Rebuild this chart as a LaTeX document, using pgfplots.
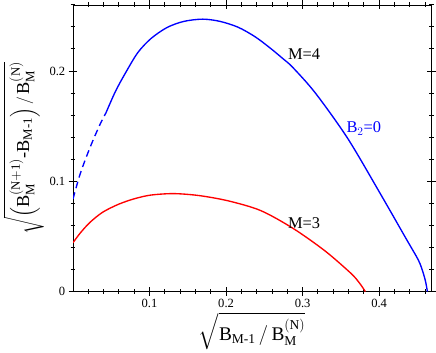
\documentclass[border=0pt]{standalone}
\usepackage{amsmath}
\usepackage{fontspec}
\setmainfont{Liberation Serif}
\usepackage{pgfplots}
\pgfplotsset{compat=1.18}
\begin{document}
\begin{tikzpicture}
\begin{axis}[
  scale only axis,
  width=371pt, height=297pt,
  xmin=0, xmax=0.468,
  ymin=0, ymax=0.26,
  xtick={0.1,0.2,0.3,0.4},
  ytick={0,0.1,0.2},
  minor xtick={0.02,0.04,...,0.46},
  minor ytick={0.02,0.04,...,0.26},
  xticklabels={0.1,0.2,0.3,0.4},
  yticklabels={0,0.1,0.2},
  tick label style={font=\fontsize{13}{15}\selectfont},
  tick align=center,
  tickwidth=9pt,
  subtickwidth=5pt,
  tick style={black, line width=1pt},
  xlabel={$\sqrt{\mathrm{B}_{\mathrm{M\text{-}1}}\,/\,\mathrm{B}_{\mathrm{M}}^{(\mathrm{N})}}$},
  ylabel={$\sqrt{\left(\mathrm{B}_{\mathrm{M}}^{(\mathrm{N+1})}\text{-}\mathrm{B}_{\mathrm{M\text{-}1}}\right)/\,\mathrm{B}_{\mathrm{M}}^{(\mathrm{N})}}$},
  xlabel style={font=\fontsize{20}{22}\selectfont, yshift=2pt},
  ylabel style={font=\fontsize{19}{21}\selectfont, yshift=-1pt},
]
\addplot[blue, line width=1.4pt, dash pattern=on 7pt off 4.5pt, smooth] coordinates {
  (0.000,0.0840) (0.0095,0.1070) (0.0221,0.1304) (0.0347,0.1507) (0.043,0.1620)
};
\addplot[blue, line width=1.4pt, smooth] coordinates {
  (0.043,0.1620) (0.0558,0.1820) (0.0700,0.2000) (0.085,0.2170) (0.102,0.2295)
  (0.123,0.2395) (0.145,0.2450) (0.1694,0.2470) (0.192,0.2450) (0.2157,0.2397)
  (0.2380,0.2310) (0.2578,0.2207) (0.2746,0.2110) (0.2872,0.2032) (0.3167,0.1800)
  (0.3588,0.1390) (0.4009,0.0895) (0.4346,0.0487) (0.4514,0.0283) (0.4577,0.0166)
  (0.4610,0.0080) (0.4630,0.0000)
};
\addplot[red, line width=1.4pt, smooth] coordinates {
  (0.000,0.0443) (0.0095,0.0531) (0.0221,0.0627) (0.0389,0.0720) (0.060,0.0793)
  (0.081,0.0843) (0.102,0.0875) (0.1316,0.0888) (0.165,0.0870) (0.203,0.0822)
  (0.245,0.0735) (0.287,0.0575) (0.329,0.0370) (0.363,0.0166) (0.374,0.0080)
  (0.382,0.000)
};
\node[font=\fontsize{17}{19}\selectfont] at (axis cs:0.302,0.215) {M=4};
\node[font=\fontsize{17}{19}\selectfont] at (axis cs:0.302,0.0624) {M=3};
\node[blue, font=\fontsize{17}{19}\selectfont] at (axis cs:0.380,0.148) {B$_2$=0};
\end{axis}
\end{tikzpicture}
\end{document}
